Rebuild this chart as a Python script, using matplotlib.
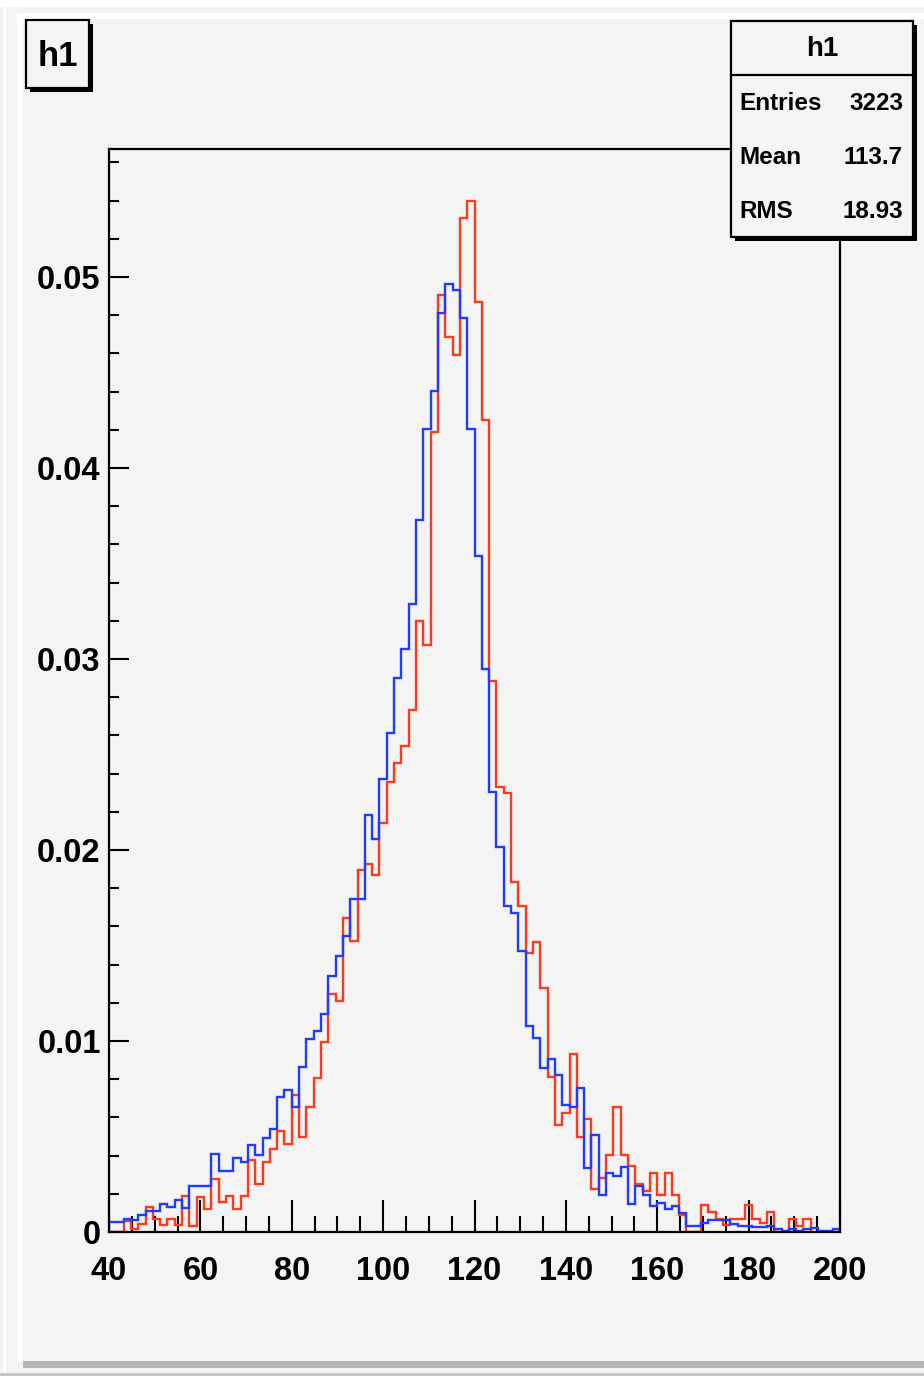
import numpy as np
import matplotlib
matplotlib.use("Agg")
import matplotlib.pyplot as plt
from matplotlib.patches import Rectangle

# ---------------------------------------------------------
# Data: 100 bins from 40 to 200, bin contents in units of 1e-3
# ---------------------------------------------------------
x_min, x_max, n_bins = 40, 200, 100

red_vals = [
    0.00, 0.00, 0.55, 0.14, 0.40, 1.30, 0.70, 0.35, 0.66, 0.35,
    1.88, 0.30, 1.82, 1.22, 2.80, 1.57, 1.87, 1.22, 1.88, 3.75,
    2.50, 3.68, 4.35, 5.28, 4.63, 7.17, 4.99, 6.56, 8.08, 9.93,
    12.44, 12.09, 16.42, 15.24, 18.95, 19.25, 18.69, 21.43, 23.57, 24.54,
    25.46, 27.31, 31.99, 30.73, 41.87, 49.06, 46.87, 45.92, 53.07, 53.98,
    48.71, 42.51, 28.85, 23.28, 22.97, 18.31, 17.07, 14.59, 15.20, 12.76,
    8.13, 5.60, 6.21, 9.34, 4.96, 5.90, 2.25, 2.81, 4.03, 6.56,
    4.03, 3.46, 2.51, 2.16, 3.10, 1.94, 3.10, 1.94, 0.89, 0.00,
    0.00, 1.43, 1.05, 0.66, 0.37, 0.66, 0.66, 1.43, 0.66, 0.45,
    1.05, 0.00, 0.00, 0.66, 0.33, 0.66, 0.00, 0.00, 0.00, 0.00,
]

blue_vals = [
    0.50, 0.50, 0.70, 0.62, 0.88, 1.10, 1.10, 1.48, 1.30, 1.68,
    1.25, 2.43, 2.43, 2.43, 4.06, 3.21, 3.21, 3.87, 3.68, 4.53,
    4.04, 4.90, 5.39, 7.05, 7.43, 6.56, 8.66, 10.10, 10.52, 11.40,
    13.42, 14.45, 15.51, 17.45, 17.45, 21.85, 20.56, 23.72, 26.14, 28.99,
    30.54, 32.88, 37.26, 42.02, 44.05, 48.10, 49.62, 49.32, 47.87, 42.02,
    35.39, 29.47, 23.05, 20.14, 17.07, 16.68, 14.73, 10.80, 10.14, 8.60,
    9.08, 8.22, 6.65, 6.56, 7.52, 3.37, 5.08, 1.94, 3.07, 2.93,
    3.39, 1.47, 2.42, 1.94, 1.38, 1.50, 1.20, 1.38, 0.98, 0.33,
    0.33, 0.49, 0.63, 0.63, 0.63, 0.40, 0.33, 0.33, 0.24, 0.24,
    0.33, 0.14, 0.05, 0.14, 0.05, 0.14, 0.23, 0.05, 0.05, 0.14,
]

stat_names = ["Entries", "Mean", "RMS"]
stat_values = ["3223", "113.7", "18.93"]
hist_name = "h1"

red_col = "#ff3a1c"
blue_col = "#1f3cff"
bg = "#f4f4f4"

edges = np.linspace(x_min, x_max, n_bins + 1)
red = np.array(red_vals) * 1e-3
blue = np.array(blue_vals) * 1e-3

# ---------------------------------------------------------
# Figure and frame (positions in pixels of a 924x1376 canvas)
# ---------------------------------------------------------
W, H = 924, 1376
fig = plt.figure(figsize=(W / 100, H / 100), dpi=100, facecolor=bg)
plt.rcParams['font.family'] = ['Liberation Sans', 'DejaVu Sans']

fl, fr, ft, fb = 109, 840, 149, 1232
ax = fig.add_axes([fl / W, 1 - fb / H, (fr - fl) / W, (fb - ft) / H])
ax.set_facecolor(bg)

ax.stairs(red, edges, color=red_col, lw=1.7, zorder=2)
ax.stairs(blue, edges, color=blue_col, lw=1.7, zorder=3)

ax.set_xlim(x_min, x_max)
ax.set_ylim(0, 0.0567)

ax.set_xticks(np.arange(40, 201, 20))
ax.set_xticks(np.arange(40, 201, 5), minor=True)
ax.set_yticks(np.arange(0, 0.051, 0.01))
ax.set_yticks(np.arange(0, 0.0567, 0.002), minor=True)
ax.set_yticklabels(["0", "0.01", "0.02", "0.03", "0.04", "0.05"])

for s in ax.spines.values():
    s.set_linewidth(1.6)
    s.set_zorder(5)

ax.tick_params(axis='x', which='major', direction='in', length=23, width=1.5,
               pad=17, labelsize=23.5)
ax.tick_params(axis='x', which='minor', direction='in', length=11.5, width=1.5)
ax.tick_params(axis='y', which='major', direction='in', length=14.5, width=1.5,
               pad=6, labelsize=23.5)
ax.tick_params(axis='y', which='minor', direction='in', length=7.5, width=1.5)
for lab in ax.get_xticklabels() + ax.get_yticklabels():
    lab.set_fontweight('bold')

# ---------------------------------------------------------
# Overlay in pixel coordinates: canvas border, title box, stats box
# ---------------------------------------------------------
ov = fig.add_axes([0, 0, 1, 1], zorder=10)
ov.set_xlim(0, W)
ov.set_ylim(H, 0)
ov.axis('off')
ov.patch.set_alpha(0)

# canvas bevel
ov.add_patch(Rectangle((0, 0), W, 7, color="white", lw=0))
ov.add_patch(Rectangle((17, 13), W - 17, 6, color="white", lw=0))
ov.add_patch(Rectangle((17, 13), 6, 1349, color="white", lw=0))
ov.add_patch(Rectangle((3, 0), 3, H, color="white", lw=0))
ov.add_patch(Rectangle((23, 1361), W - 23, 7, color="#b4b4b4", lw=0))
ov.add_patch(Rectangle((0, 1373), W, 3, color="#c8c8c8", lw=0))


def box(x0, y0, x1, y1):
    ov.add_patch(Rectangle((x0 + 4, y0 + 4), x1 - x0, y1 - y0,
                           facecolor="black", lw=0))
    ov.add_patch(Rectangle((x0, y0), x1 - x0, y1 - y0,
                           facecolor=bg, edgecolor="black", lw=1.6))


# title box
box(26, 20, 89, 88)
ov.text(57.5, 56, hist_name, ha='center', va='center', fontsize=25,
        fontweight='bold')

# stats box
box(731, 21, 913, 237)
ov.plot([731, 913], [75, 75], color="black", lw=1.6)
ov.text(822, 49, hist_name, ha='center', va='center', fontsize=20,
        fontweight='bold')
for i, (nm, val) in enumerate(zip(stat_names, stat_values)):
    yy = 103 + 54 * i
    ov.text(739, yy, nm, ha='left', va='center', fontsize=17.5,
            fontweight='bold')
    ov.text(903, yy, val, ha='right', va='center', fontsize=17.5,
            fontweight='bold')

fig.savefig("out.png", dpi=100, facecolor=bg)
